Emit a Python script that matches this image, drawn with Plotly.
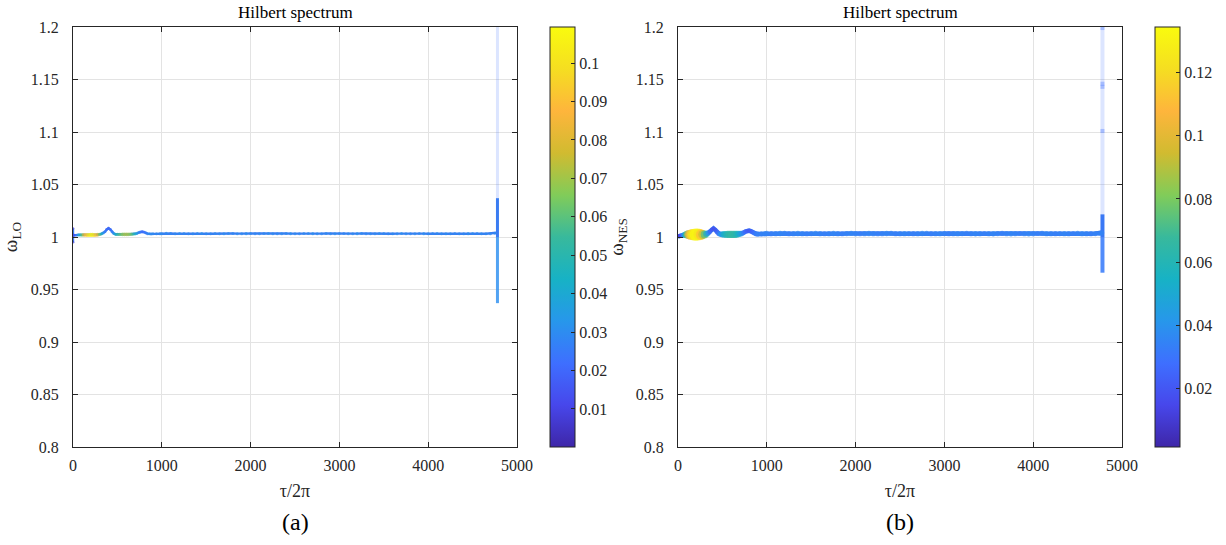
import plotly.graph_objects as go

# ---------------- data ----------------
# panel (a): omega_LO
t_a = [0, 0, 0, 10, 20, 40, 60, 80, 100, 120, 140, 160, 180, 200, 220, 240, 260, 280, 300, 320,
       340, 360, 380, 400, 420, 440, 460, 480, 500, 520, 540, 560, 580, 600, 620, 640,
       660, 680, 700, 720, 740, 760, 780, 800, 820, 840, 860, 880, 900, 940, 980,
       1000, 1050, 1100, 1150, 1200, 1250, 1300, 1350, 1400, 1450, 1500, 1550, 1600,
       1650, 1700, 1750, 1800, 1850, 1900, 1950, 2000, 2050, 2100, 2150, 2200, 2250,
       2300, 2350, 2400, 2450, 2500, 2550, 2600, 2650, 2700, 2750, 2800, 2850, 2900,
       2950, 3000, 3050, 3100, 3150, 3200, 3250, 3300, 3350, 3400, 3450, 3500, 3550,
       3600, 3650, 3700, 3750, 3800, 3850, 3900, 3950, 4000, 4050, 4100, 4150, 4200,
       4250, 4300, 4350, 4400, 4450, 4500, 4550, 4600, 4650, 4700, 4750, 4770]
w_a = [0.995, 1.008, 1.002, 1.0018, 1.0016, 1.0018, 1.002, 1.002, 1.002, 1.002, 1.002, 1.002,
       1.002, 1.002, 1.002, 1.002, 1.002, 1.0022, 1.0025, 1.003, 1.0038, 1.005, 1.0072, 1.0083,
       1.0072, 1.0048, 1.0033, 1.0026, 1.0025, 1.0025, 1.0025, 1.0025, 1.0025, 1.0025, 1.0025,
       1.0026, 1.0027, 1.0028, 1.003, 1.0035, 1.0042, 1.0048, 1.005, 1.0046, 1.0038, 1.0032,
       1.003, 1.0029, 1.003, 1.003, 1.0031,
       1.0032, 1.0035, 1.0034, 1.0031, 1.0033, 1.0034, 1.0032, 1.0031, 1.0033, 1.0034, 1.0032,
       1.0031, 1.0033, 1.0032, 1.0031, 1.0033, 1.0034, 1.0032, 1.0031, 1.0032, 1.0033, 1.0032,
       1.0031, 1.0033, 1.0034, 1.0032, 1.0031, 1.0032, 1.0033, 1.0032, 1.0031, 1.0032, 1.0033,
       1.0034, 1.0032, 1.0031, 1.0032, 1.0033, 1.0032, 1.0031, 1.0033, 1.0034, 1.0032, 1.0031,
       1.0032, 1.0033, 1.0032, 1.0031, 1.0032, 1.0033, 1.0034, 1.0032, 1.0031, 1.0032, 1.0033,
       1.0032, 1.0031, 1.0032, 1.0033, 1.0032, 1.0031, 1.0033, 1.0034, 1.0032, 1.0031, 1.0032,
       1.0033, 1.0032, 1.0031, 1.0032, 1.0033, 1.0034, 1.0032, 1.0031, 1.0032, 1.0035, 1.004]
amp_a = [0.008, 0.008, 0.01, 0.012, 0.016, 0.026, 0.036, 0.048, 0.062, 0.076, 0.088, 0.097,
         0.103, 0.106, 0.104, 0.099, 0.09, 0.077, 0.062, 0.047, 0.034, 0.025, 0.02, 0.018,
         0.02, 0.026, 0.035, 0.044, 0.052, 0.058, 0.063, 0.067, 0.07, 0.071, 0.07, 0.067,
         0.062, 0.054, 0.045, 0.037, 0.03, 0.024, 0.021, 0.022, 0.025, 0.028, 0.03, 0.03,
         0.03, 0.03, 0.03,
         0.03, 0.03, 0.029, 0.03, 0.031, 0.03, 0.029, 0.03, 0.03, 0.031, 0.03, 0.029, 0.03,
         0.03, 0.031, 0.03, 0.029, 0.03, 0.03, 0.031, 0.03, 0.029, 0.03, 0.03, 0.031, 0.03,
         0.029, 0.03, 0.03, 0.031, 0.03, 0.029, 0.03, 0.03, 0.031, 0.03, 0.029, 0.03, 0.03,
         0.031, 0.03, 0.029, 0.03, 0.03, 0.031, 0.03, 0.029, 0.03, 0.03, 0.031, 0.03, 0.029,
         0.03, 0.03, 0.031, 0.03, 0.029, 0.03, 0.03, 0.031, 0.03, 0.029, 0.03, 0.03, 0.031,
         0.03, 0.029, 0.03, 0.03, 0.031, 0.03, 0.029, 0.03, 0.03, 0.03, 0.03]

# end-of-record spike (a)
spike_t_a = 4780
spike_strong_a = [1.0, 1.037]
spike_weak_a = [0.937, 1.0]
spike_faint_a = [1.037, 1.2]

# panel (b): omega_NES
t_b = [0, 10, 20, 40, 60, 80, 100, 120, 140, 160, 180, 200, 220, 240, 260, 280, 300, 320,
       340, 360, 380, 400, 420, 440, 460, 480, 500, 520, 540, 560, 580, 600, 620, 640,
       660, 680, 700, 720, 740, 760, 780, 800, 820, 840, 860, 880, 900, 940, 980,
       1000, 1050, 1100, 1150, 1200, 1250, 1300, 1350, 1400, 1450, 1500, 1550, 1600,
       1650, 1700, 1750, 1800, 1850, 1900, 1950, 2000, 2050, 2100, 2150, 2200, 2250,
       2300, 2350, 2400, 2450, 2500, 2550, 2600, 2650, 2700, 2750, 2800, 2850, 2900,
       2950, 3000, 3050, 3100, 3150, 3200, 3250, 3300, 3350, 3400, 3450, 3500, 3550,
       3600, 3650, 3700, 3750, 3800, 3850, 3900, 3950, 4000, 4050, 4100, 4150, 4200,
       4250, 4300, 4350, 4400, 4450, 4500, 4550, 4600, 4650, 4700, 4750, 4770]
w_b = [1.0005, 1.001, 1.0012, 1.0015, 1.0018, 1.002, 1.0022, 1.0023, 1.0023, 1.0023, 1.0023,
       1.0023, 1.0023, 1.0023, 1.0023, 1.0023, 1.0025, 1.003, 1.0038, 1.005, 1.007, 1.0082,
       1.0068, 1.0045, 1.0032, 1.0026, 1.0025, 1.0025, 1.0025, 1.0025, 1.0025, 1.0025, 1.0025,
       1.0025, 1.0026, 1.0028, 1.003, 1.0034, 1.0042, 1.0052, 1.0058, 1.006, 1.0055, 1.0045,
       1.0035, 1.003, 1.0028, 1.003, 1.0032,
       1.0034, 1.0032, 1.0031, 1.0033, 1.0034, 1.0032, 1.0031, 1.0033, 1.0032, 1.0031, 1.0033,
       1.0034, 1.0032, 1.0031, 1.0032, 1.0033, 1.0032, 1.0031, 1.0033, 1.0034, 1.0032, 1.0031,
       1.0032, 1.0033, 1.0032, 1.0031, 1.0032, 1.0033, 1.0034, 1.0032, 1.0031, 1.0032, 1.0033,
       1.0032, 1.0031, 1.0033, 1.0034, 1.0032, 1.0031, 1.0032, 1.0033, 1.0032, 1.0031, 1.0032,
       1.0033, 1.0034, 1.0032, 1.0031, 1.0032, 1.0033, 1.0032, 1.0031, 1.0033, 1.0034, 1.0032,
       1.0031, 1.0032, 1.0033, 1.0032, 1.0031, 1.0032, 1.0033, 1.0034, 1.0032, 1.0031, 1.0032,
       1.0033, 1.0032, 1.0031, 1.0033, 1.0034, 1.0032, 1.0031, 1.0032, 1.0033, 1.0035, 1.004]
amp_b = [0.008, 0.01, 0.014, 0.024, 0.036, 0.052, 0.07, 0.09, 0.108, 0.12, 0.128, 0.133,
         0.131, 0.124, 0.11, 0.092, 0.072, 0.052, 0.036, 0.024, 0.018, 0.016, 0.018, 0.024,
         0.032, 0.04, 0.047, 0.053, 0.058, 0.062, 0.065, 0.066, 0.066, 0.064, 0.06, 0.054,
         0.046, 0.038, 0.03, 0.024, 0.021, 0.02, 0.022, 0.026, 0.03, 0.033, 0.034, 0.035, 0.035,
         0.035, 0.034, 0.035, 0.036, 0.035, 0.034, 0.035, 0.036, 0.035, 0.034, 0.035, 0.036,
         0.035, 0.034, 0.035, 0.036, 0.035, 0.034, 0.035, 0.036, 0.035, 0.034, 0.035, 0.036,
         0.035, 0.034, 0.035, 0.036, 0.035, 0.034, 0.035, 0.036, 0.035, 0.034, 0.035, 0.036,
         0.035, 0.034, 0.035, 0.036, 0.035, 0.034, 0.035, 0.036, 0.035, 0.034, 0.035, 0.036,
         0.035, 0.034, 0.035, 0.036, 0.035, 0.034, 0.035, 0.036, 0.035, 0.034, 0.035, 0.036,
         0.035, 0.034, 0.035, 0.036, 0.035, 0.034, 0.035, 0.036, 0.035, 0.034, 0.035, 0.036,
         0.035, 0.034, 0.035, 0.035, 0.035, 0.035]

spike_t_b = 4780
spike_strong_b = [1.0, 1.0216]
spike_weak_b = [0.966, 1.0]
spike_faint_b = [1.0216, 1.2]
spike_dots_b = [1.199, 1.146, 1.143, 1.101]

cbar_a = dict(cmin=0.0001, cmax=0.1094, ticks=[0.01, 0.02, 0.03, 0.04, 0.05, 0.06, 0.07, 0.08, 0.09, 0.1])
cbar_b = dict(cmin=0.0014, cmax=0.1345, ticks=[0.02, 0.04, 0.06, 0.08, 0.1, 0.12])

# ---------------- style ----------------
W, H = 1226, 545
FONT = "Liberation Serif, 'Times New Roman', Times, serif"
AX = "#262626"
GRID = "#e3e3e3"

parula = [
    [0.0, "#3e26a8"], [0.1, "#4747eb"], [0.2, "#3e6fff"], [0.3, "#2797eb"],
    [0.4, "#17b2c5"], [0.5, "#38b99c"], [0.6, "#81cc59"], [0.7, "#d1bb30"],
    [0.8, "#feb53c"], [0.9, "#f5de21"], [1.0, "#f9fb0e"],
]

L_A, R_A = 73, 517
L_B, R_B = 678, 1122
TOP, BOT = 27, 447


def px_x(p):
    return p / W


def px_y(p):
    return 1 - p / H


fig = go.Figure()

# panel (a)
fig.add_trace(go.Scatter(
    x=[spike_t_a, spike_t_a], y=spike_faint_a, mode="lines",
    line=dict(color="rgba(62,111,255,0.18)", width=3), xaxis="x", yaxis="y",
    showlegend=False, hoverinfo="skip"))
fig.add_trace(go.Scatter(
    x=[spike_t_a, spike_t_a], y=spike_weak_a, mode="lines",
    line=dict(color="rgba(39,140,240,0.8)", width=3), xaxis="x", yaxis="y",
    showlegend=False, hoverinfo="skip"))
fig.add_trace(go.Scatter(
    x=[spike_t_a, spike_t_a], y=spike_strong_a, mode="lines",
    line=dict(color="#3a7cf2", width=3), xaxis="x", yaxis="y",
    showlegend=False, hoverinfo="skip"))
fig.add_trace(go.Scatter(
    x=t_a, y=w_a, mode="lines+markers",
    line=dict(color="#3a7ef2", width=2.4),
    marker=dict(color=amp_a, coloraxis="coloraxis", size=[2.6 + a * 14 for a in amp_a],
                line=dict(width=0)),
    xaxis="x", yaxis="y", showlegend=False))

# panel (b)
fig.add_trace(go.Scatter(
    x=[spike_t_b, spike_t_b], y=spike_faint_b, mode="lines",
    line=dict(color="rgba(62,111,255,0.18)", width=4), xaxis="x2", yaxis="y2",
    showlegend=False, hoverinfo="skip"))
fig.add_trace(go.Scatter(
    x=[spike_t_b] * len(spike_dots_b), y=spike_dots_b, mode="markers",
    marker=dict(color="rgba(62,111,255,0.35)", size=4, symbol="square"),
    xaxis="x2", yaxis="y2", showlegend=False, hoverinfo="skip"))
fig.add_trace(go.Scatter(
    x=[spike_t_b, spike_t_b], y=spike_weak_b, mode="lines",
    line=dict(color="rgba(50,120,250,0.85)", width=4), xaxis="x2", yaxis="y2",
    showlegend=False, hoverinfo="skip"))
fig.add_trace(go.Scatter(
    x=[spike_t_b, spike_t_b], y=spike_strong_b, mode="lines",
    line=dict(color="#3a78f5", width=4), xaxis="x2", yaxis="y2",
    showlegend=False, hoverinfo="skip"))
fig.add_trace(go.Scatter(
    x=t_b, y=w_b, mode="lines+markers",
    line=dict(color="#3a7af4", width=4.5),
    marker=dict(color=amp_b, coloraxis="coloraxis2", size=[2.8 + a * 70 for a in amp_b],
                line=dict(width=0)),
    xaxis="x2", yaxis="y2", showlegend=False))

tickfont = dict(family=FONT, size=16, color=AX)


def xaxis(dom, anchor):
    return dict(domain=dom, anchor=anchor, range=[0, 5000], dtick=1000, tick0=0,
                automargin=False, ticklabelstandoff=4,
                showline=True, linecolor=AX, linewidth=1, mirror="ticks",
                ticks="inside", ticklen=5, tickcolor=AX, showgrid=True, gridcolor=GRID,
                zeroline=False, tickfont=tickfont,
                title=dict(text="τ/2π", font=dict(family=FONT, size=18, color=AX), standoff=11))


def yaxis(anchor, label, standoff):
    return dict(domain=[px_y(BOT), px_y(TOP)], anchor=anchor, range=[0.8, 1.2], dtick=0.05,
                tick0=0.8, automargin=False, ticklabelstandoff=10,
                showline=True, linecolor=AX, linewidth=1, mirror="ticks",
                ticks="inside", ticklen=5, tickcolor=AX, showgrid=True, gridcolor=GRID,
                zeroline=False, tickfont=tickfont,
                title=dict(text=label, font=dict(family=FONT, size=19, color=AX), standoff=standoff))


def cbar(x, spec):
    return dict(
        cmin=spec["cmin"], cmax=spec["cmax"], colorscale=parula,
        colorbar=dict(x=x, xanchor="left", xref="paper", y=px_y(BOT), yanchor="bottom",
                      len=BOT - TOP, lenmode="pixels", thickness=25, thicknessmode="pixels",
                      outlinecolor=AX, outlinewidth=1, tickvals=spec["ticks"],
                      ticks="inside", ticklen=4, tickcolor=AX,
                      tickfont=dict(family=FONT, size=16, color=AX), ypad=0, xpad=0))


def label(text, xc, yc, size):
    return dict(text=text, x=px_x(xc), y=px_y(yc), xref="paper", yref="paper",
                xanchor="center", yanchor="middle", showarrow=False,
                font=dict(family=FONT, size=size, color="#000"))


fig.update_layout(
    width=W, height=H, margin=dict(l=0, r=0, t=0, b=0, autoexpand=False),
    paper_bgcolor="white", plot_bgcolor="white",
    xaxis=xaxis([px_x(L_A), px_x(R_A)], "y"),
    yaxis=yaxis("x", "ω<sub>LO</sub>", 9),
    xaxis2=xaxis([px_x(L_B), px_x(R_B)], "y2"),
    yaxis2=yaxis("x2", "ω<sub>NES</sub>", 7),
    coloraxis=cbar(px_x(550), cbar_a),
    coloraxis2=cbar(px_x(1155), cbar_b),
    annotations=[
        label("Hilbert spectrum", (L_A + R_A) / 2, 13, 17),
        label("Hilbert spectrum", (L_B + R_B) / 2, 13, 17),
        label("(a)", (L_A + R_A) / 2, 522, 24),
        label("(b)", (L_B + R_B) / 2, 522, 24),
    ],
)

fig.write_html("out.html")
